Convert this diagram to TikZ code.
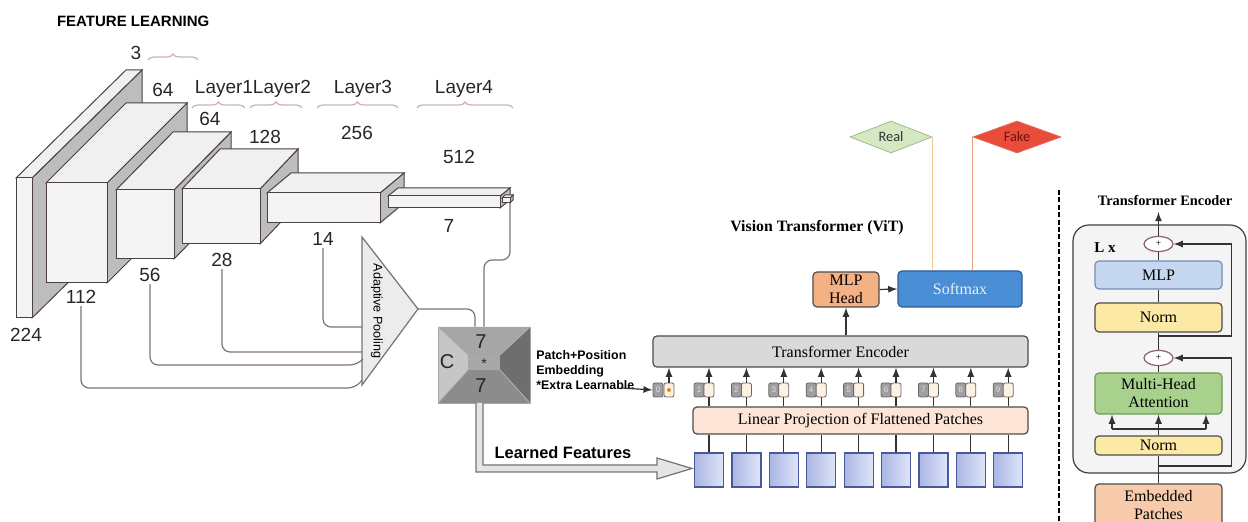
\documentclass[tikz,border=0pt]{standalone}
\usepackage{fontspec}
\setmainfont{Liberation Serif}
\setsansfont{Liberation Sans}
\newfontfamily\carlito{Carlito}
\usetikzlibrary{positioning,shapes.geometric,decorations.pathreplacing,arrows}

\definecolor{mapfront}{HTML}{F4F4F4}
\definecolor{maptop}{HTML}{F0F0F0}
\definecolor{mapside}{HTML}{BDBDBD}
\definecolor{mapedge}{HTML}{4D4040}
\definecolor{bracecol}{HTML}{C9B0C0}
\definecolor{poolline}{HTML}{80707F}
\definecolor{poolfill}{HTML}{ECECEC}
\definecolor{enccol}{HTML}{D9D9D9}
\definecolor{projcol}{HTML}{FCE4D6}
\definecolor{mlpcol}{HTML}{F4B183}
\definecolor{softcol}{HTML}{4A8ED6}
\definecolor{softedge}{HTML}{2E5C94}
\definecolor{softtext}{HTML}{E8EEF6}
\definecolor{realcol}{HTML}{D5E8C4}
\definecolor{realedge}{HTML}{9DBD88}
\definecolor{fakecol}{HTML}{EA4C3A}
\definecolor{fakeedge}{HTML}{E36655}
\definecolor{faketext}{HTML}{6B150C}
\definecolor{realline}{HTML}{F1C98A}
\definecolor{fakeline}{HTML}{E9A07C}
\definecolor{tokencol}{HTML}{FDF1E2}
\definecolor{patchdark}{HTML}{AAB6E4}
\definecolor{patchlight}{HTML}{DFE5F8}
\definecolor{patchedge}{HTML}{48589A}
\definecolor{encbg}{HTML}{F4F4F4}
\definecolor{mlpblue}{HTML}{C5D8F0}
\definecolor{mlpblueedge}{HTML}{6F8FB5}
\definecolor{normcol}{HTML}{FDE9A6}
\definecolor{mhacol}{HTML}{A9D18E}
\definecolor{mhaedge}{HTML}{6E9A55}
\definecolor{embcol}{HTML}{F8CBAD}
\definecolor{plusedge}{HTML}{8E5F70}

% one feature map: x, y (front top left), width, height, depth x, depth y
\newcommand{\featmap}[6]{%
  \draw[map_side] (#1+#3,#2) -- ++(#5,-#6) -- ++(0,#4) -- ++(-#5,#6) -- cycle;
  \draw[map_top] (#1,#2) -- ++(#5,-#6) -- ++(#3,0) -- ++(-#5,#6) -- cycle;
  \draw[map_front] (#1,#2) rectangle ++(#3,#4);
}

\tikzset{
        % Feature map faces
        map_front/.style={fill=mapfront, draw=mapedge, line width=0.5pt},
        map_top/.style={fill=maptop, draw=mapedge, line width=0.5pt},
        map_side/.style={fill=mapside, draw=mapedge, line width=0.5pt},
        % Sizes and layer names
        size_label/.style={font=\sffamily\fontsize{9.5}{11}\selectfont, text=black!85, inner sep=1pt},
        layer_brace/.style={draw=bracecol, line width=0.6pt, decorate, decoration={brace, amplitude=3pt}},
        % Lines into the pooling
        pool_line/.style={draw=poolline, line width=0.6pt, rounded corners=4pt},
        % ViT boxes
        vit_box/.style={draw=black!70, line width=0.6pt, rounded corners=2pt, inner sep=0pt, align=center, font=\fontsize{8}{9}\selectfont},
        vit_line/.style={draw=black!80, line width=0.6pt},
        token_num/.style={draw=black!60, fill=gray!75, text=gray!25, rounded corners=1pt, minimum width=5pt, minimum height=7pt, inner sep=0pt, font=\sffamily\fontsize{4}{4}\selectfont},
        token_emb/.style={draw=black!60, fill=tokencol, rounded corners=1pt, minimum width=5pt, minimum height=7pt, inner sep=0pt},
        patch_box/.style={draw=patchedge, line width=0.6pt, left color=patchdark, right color=patchlight, minimum width=14.5pt, minimum height=17pt, inner sep=0pt},
        % Encoder block
        enc_box/.style={vit_box, minimum width=63.5pt},
        plus_node/.style={ellipse, draw=plusedge, fill=white, line width=0.6pt, minimum width=14.5pt, minimum height=7.5pt, inner sep=0pt, font=\fontsize{5}{5}\selectfont},
        class_node/.style={diamond, aspect=2.6, inner sep=0pt, font=\carlito\fontsize{7.2}{8}\selectfont}
}

\begin{document}
\begin{tikzpicture}[x=0.5pt, y=-0.5pt, >=latex]
\useasboundingbox (0,0) rectangle (1248,522);

\node[anchor=west, font=\sffamily\bfseries\fontsize{7.5}{9}\selectfont] (title_cnn) at (50,21) {FEATURE LEARNING};

% feature maps
\featmap{16}{178}{16}{140}{110}{108}
\featmap{46}{183}{61}{100}{80}{80}
\featmap{116}{190}{58}{69}{57}{58}
\featmap{182}{189}{78}{55}{38}{40}
\featmap{267}{193}{113}{30}{24}{20}
\featmap{388}{196}{112}{12}{10}{8}
\featmap{502}{198}{8}{5}{3}{3}

% sizes
\node[size_label] (d3) at (136,53) {3};
\node[size_label] (c64a) at (163,90) {64};
\node[size_label] (c64b) at (210,119) {64};
\node[size_label] (c128) at (265,137) {128};
\node[size_label] (c256) at (357,133) {256};
\node[size_label] (c512) at (459,157) {512};
\node[size_label] (d7) at (449,226) {7};
\node[size_label] (d14) at (323,239) {14};
\node[size_label] (d28) at (222,260) {28};
\node[size_label] (d56) at (150,275) {56};
\node[size_label] (d112) at (81,297) {112};
\node[size_label] (d224) at (26,335) {224};
\node[size_label] (layer1) at (224,89) {Layer1};
\node[size_label] (layer2) at (282,89) {Layer2};
\node[size_label] (layer3) at (363,89) {Layer3};
\node[size_label] (layer4) at (464,89) {Layer4};

\draw[layer_brace] (148,60) -- (198,60);
\draw[layer_brace] (192,108) -- (245,108);
\draw[layer_brace] (250,108) -- (302,108);
\draw[layer_brace] (317,108) -- (398,108);
\draw[layer_brace] (417,108) -- (513,108);

% adaptive pooling
\coordinate (pool_top) at (362,237);
\coordinate (pool_bot) at (362,385);
\coordinate (pool_tip) at (418,309);
\draw[fill=poolfill, draw=black!55, line width=0.6pt] (pool_top) -- (pool_tip) -- (pool_bot) -- cycle;
\node[rotate=-90, font=\sffamily\fontsize{6.3}{7}\selectfont] (pool) at (377,311) {Adaptive Pooling};

\draw[pool_line] (d14.south) |- (362,327);
\draw[pool_line] (d28.south) |- (362,352);
\draw[pool_line] (d56.south) |- (358,365) -- (362,360);
\draw[pool_line] (d112.south) |- (356,388) -- (362,380);

% C x 7 x 7 volume
\node[minimum width=46pt, minimum height=38pt, inner sep=0pt] (cbox) at (484,365) {};
\coordinate (c_nw) at (438,327);
\coordinate (c_ne) at (530,327);
\coordinate (c_se) at (530,403);
\coordinate (c_sw) at (438,403);
\coordinate (i_nw) at (468,355);
\coordinate (i_ne) at (500,355);
\coordinate (i_se) at (500,370);
\coordinate (i_sw) at (468,370);
\fill[gray!70] (c_nw) -- (c_ne) -- (i_ne) -- (i_nw) -- cycle;
\fill[gray!45] (c_nw) -- (i_nw) -- (i_sw) -- (c_sw) -- cycle;
\fill[gray!110!black!0, fill=black!57] (c_ne) -- (c_se) -- (i_se) -- (i_ne) -- cycle;
\fill[black!45] (c_sw) -- (i_sw) -- (i_se) -- (c_se) -- cycle;
\fill[gray!68] (i_nw) rectangle (i_se);
\draw[black!35, line width=0.4pt] (c_nw) rectangle (c_se);
\draw[black!30, line width=0.4pt] (c_nw) -- (i_nw) (c_ne) -- (i_ne) (c_se) -- (i_se) (c_sw) -- (i_sw);
\node[size_label, font=\sffamily\fontsize{10}{11}\selectfont] (c_h) at (481,342) {7};
\node[size_label, font=\sffamily\fontsize{10}{11}\selectfont] (c_c) at (447,362) {C};
\node[size_label, font=\sffamily\fontsize{7}{8}\selectfont] (c_star) at (484,364) {*};
\node[size_label, font=\sffamily\fontsize{10}{11}\selectfont] (c_w) at (481,386) {7};

\coordinate (map_end) at (510,203);
\draw[pool_line] (pool_tip) -| ([xshift=-4.5pt]cbox.north);
\draw[pool_line] (map_end) |- (cbox.north |- 0,260) -- (cbox.north);

% learned features
\draw[fill=black!10, draw=black!55, line width=0.6pt] (476,403) -- (476,472) -- (657,472) -- (657,479) -- (692,468.5) -- (657,458) -- (657,465) -- (483,465) -- (483,403);
\node[font=\sffamily\bfseries\fontsize{8.2}{9}\selectfont] (learned) at (563,453) {Learned Features};
\node[anchor=north west, align=left, inner sep=0pt, font=\sffamily\bfseries\fontsize{6.2}{7.5}\selectfont] (embed_text) at (536,350) {Patch+Position\\Embedding\\*Extra Learnable};

% vision transformer
\node[font=\bfseries\fontsize{7.9}{9}\selectfont] (vit_title) at (817,228) {Vision Transformer (ViT)};
\node[class_node, fill=realcol, draw=realedge, text=black!80, minimum width=41pt, minimum height=16pt] (real) at (891,137) {Real};
\node[class_node, fill=fakecol, draw=fakeedge, text=faketext, minimum width=44pt, minimum height=16pt] (fake) at (1017,137) {Fake};
\node[vit_box, fill=mlpcol, minimum width=33pt, minimum height=17.5pt] (mlphead) at (846,289.5) {MLP\\Head};
\node[vit_box, fill=softcol, draw=softedge, text=softtext, minimum width=62pt, minimum height=18pt] (softmax) at (960,289) {Softmax};
\node[vit_box, fill=enccol, minimum width=187.5pt, minimum height=15.5pt] (tenc) at (840.5,351.5) {Transformer Encoder};
\node[vit_box, fill=projcol, minimum width=167.5pt, minimum height=13.5pt] (linproj) at (860.5,420.5) {Linear Projection of Flattened Patches};

\draw[draw=realline, line width=0.6pt] (real.east) -- (real.east |- softmax.north);
\draw[draw=fakeline, line width=0.6pt] (fake.west) -- (fake.west |- softmax.north);
\draw[vit_line, ->] (mlphead.east) -- (softmax.west);
\draw[vit_line, ->] (mlphead.south |- tenc.north) -- (mlphead.south);

% class token
\node[token_num] (tn0) at (658,390) {0};
\node[token_emb] (te0) at (669,390) {};
\fill[orange!80!brown] (te0) circle (1pt);
\draw[vit_line, ->] (te0.north) -- (te0.north |- tenc.south);
\coordinate (extra_end) at (622,388);
\draw[vit_line, ->] (extra_end) -- (tn0.west);

% patch tokens
\foreach \i in {1,...,9} {
  \pgfmathsetmacro{\tx}{694+37.4*(\i-1)}
  \node[token_num] (tn\i) at (\tx+5,390) {\i};
  \node[token_emb] (te\i) at (\tx+15,390) {};
  \node[patch_box] (p\i) at (\tx+15,470) {};
  \draw[vit_line, ->] (te\i.north) -- (te\i.north |- tenc.south);
  \draw[vit_line] (linproj.north -| te\i.south) -- (te\i.south);
  \draw[vit_line] (p\i.north) -- (p\i.north |- linproj.south);
}

% separator
\coordinate (sep_top) at (1059,190);
\coordinate (sep_bot) at (1059,526);
\draw[line width=1.1pt, dash pattern=on 2.5pt off 1.2pt] (sep_top) -- (sep_bot);

% encoder block
\node[draw=black!75, fill=encbg, rounded corners=8pt, line width=0.6pt, minimum width=86.5pt, minimum height=124pt] (enc_outer) at (1159.5,349) {};
\node[font=\bfseries\fontsize{7.2}{9}\selectfont] (enc_title) at (1165,201) {Transformer Encoder};
\node[font=\bfseries\fontsize{7.5}{9}\selectfont] (lx) at (1105,248) {L x};
\node[plus_node] (plus_top) at (1158.5,244) {+};
\node[enc_box, fill=mlpblue, draw=mlpblueedge, minimum height=14pt] (mlp_box) at (1158.5,275) {MLP};
\node[enc_box, fill=normcol, minimum height=14.5pt] (norm_top) at (1158.5,317.5) {Norm};
\node[plus_node] (plus_bot) at (1158.5,358) {+};
\node[enc_box, fill=mhacol, draw=mhaedge, minimum height=20.5pt] (mha_box) at (1158.5,393.5) {Multi-Head\\Attention};
\node[enc_box, fill=normcol, minimum height=9.5pt] (norm_bot) at (1158.5,445.5) {Norm};
\node[enc_box, fill=embcol, minimum height=21pt] (emb_box) at (1158.5,505) {Embedded\\Patches};

\draw[vit_line] (emb_box.north) -- (norm_bot.south);
\coordinate (res_bot) at (1158.5,466);
\draw[vit_line, ->] (res_bot) -| ([xshift=36.5pt]plus_bot.center) -- (plus_bot.east);
\coordinate (mha_fork) at (1158.5,429);
\draw[vit_line] (norm_bot.north) -- (mha_fork);
\draw[vit_line] ([xshift=-23.25pt]mha_fork) -- ([xshift=23.75pt]mha_fork);
\draw[vit_line, ->] ([xshift=-23.25pt]mha_fork) -- ([xshift=-23.25pt]mha_box.south);
\draw[vit_line, ->] (mha_fork) -- (mha_box.south);
\draw[vit_line, ->] ([xshift=23.75pt]mha_fork) -- ([xshift=23.75pt]mha_box.south);
\draw[vit_line] (mha_box.north) -- (plus_bot.south);
\draw[vit_line] (plus_bot.north) -- (norm_top.south);
\coordinate (res_top) at (1158.5,336);
\draw[vit_line, ->] (res_top) -| ([xshift=36.5pt]plus_top.center) -- (plus_top.east);
\draw[vit_line] (norm_top.north) -- (mlp_box.south);
\draw[vit_line] (mlp_box.north) -- (plus_top.south);
\coordinate (enc_out) at (1158.5,212);
\draw[vit_line, ->] (plus_top.north) -- (enc_out);
\end{tikzpicture}
\end{document}
